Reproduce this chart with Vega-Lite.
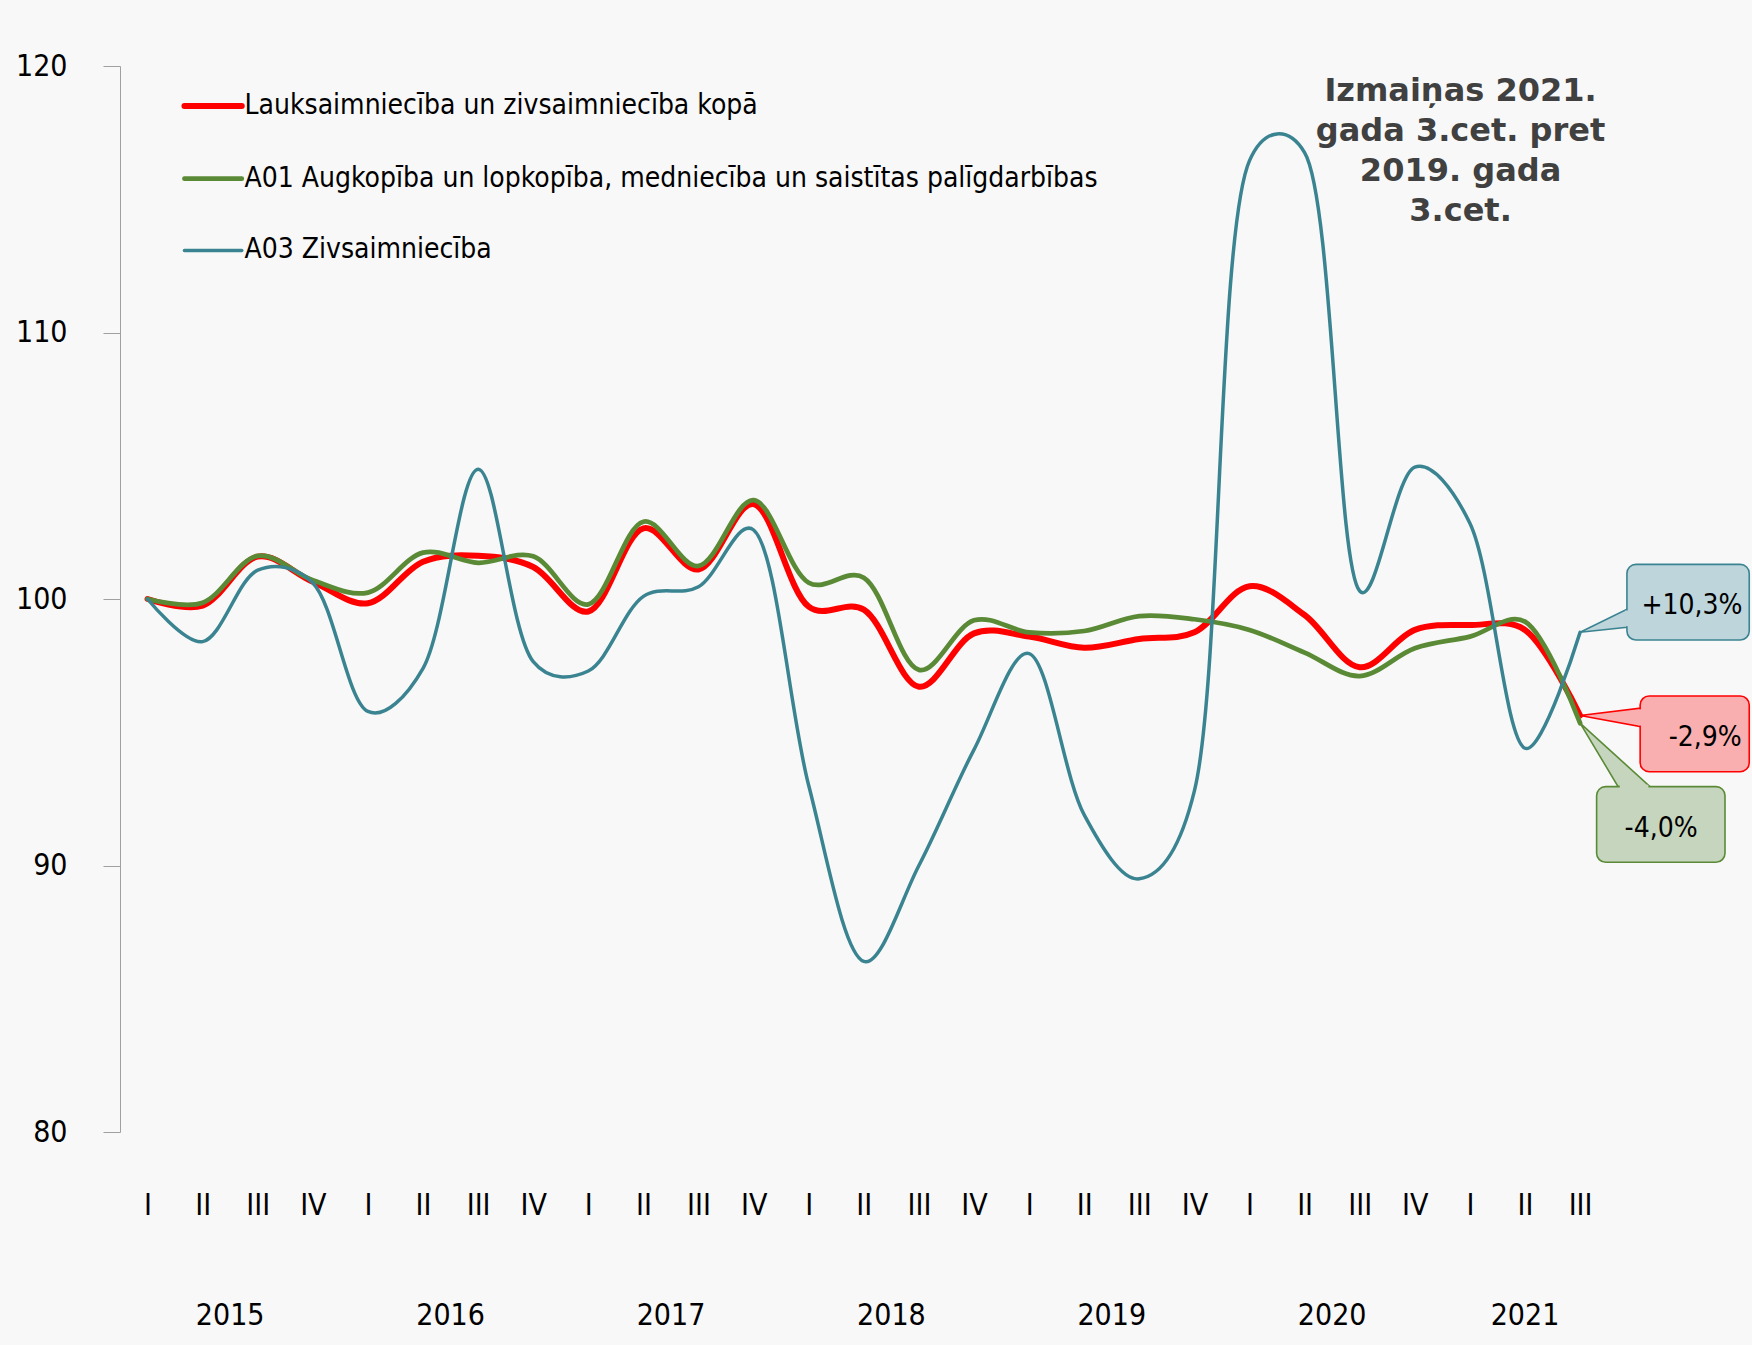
{
  "$schema": "https://vega.github.io/schema/vega-lite/v6.json",
  "width": 1632,
  "height": 1066,
  "autosize": {"type": "none"},
  "padding": {"left": 120, "top": 66, "right": 0, "bottom": 213},
  "background": "#f8f8f8",
  "config": {"view": {"stroke": null}, "font": "Liberation Sans Narrow, DejaVu Sans Condensed, sans-serif"},
  "datasets": {
    "lines": [
      {"s": "Lauksaimniecība un zivsaimniecība kopā", "x": 0, "y": 100},
      {"s": "Lauksaimniecība un zivsaimniecība kopā", "x": 1, "y": 99.75},
      {"s": "Lauksaimniecība un zivsaimniecība kopā", "x": 2, "y": 101.59},
      {"s": "Lauksaimniecība un zivsaimniecība kopā", "x": 3, "y": 100.65},
      {"s": "Lauksaimniecība un zivsaimniecība kopā", "x": 4, "y": 99.84},
      {"s": "Lauksaimniecība un zivsaimniecība kopā", "x": 5, "y": 101.4},
      {"s": "Lauksaimniecība un zivsaimniecība kopā", "x": 6, "y": 101.62},
      {"s": "Lauksaimniecība un zivsaimniecība kopā", "x": 7, "y": 101.2},
      {"s": "Lauksaimniecība un zivsaimniecība kopā", "x": 8, "y": 99.53},
      {"s": "Lauksaimniecība un zivsaimniecība kopā", "x": 9, "y": 102.65},
      {"s": "Lauksaimniecība un zivsaimniecība kopā", "x": 10, "y": 101.11},
      {"s": "Lauksaimniecība un zivsaimniecība kopā", "x": 11, "y": 103.56},
      {"s": "Lauksaimniecība un zivsaimniecība kopā", "x": 12, "y": 99.71},
      {"s": "Lauksaimniecība un zivsaimniecība kopā", "x": 13, "y": 99.6},
      {"s": "Lauksaimniecība un zivsaimniecība kopā", "x": 14, "y": 96.71},
      {"s": "Lauksaimniecība un zivsaimniecība kopā", "x": 15, "y": 98.71},
      {"s": "Lauksaimniecība un zivsaimniecība kopā", "x": 16, "y": 98.59},
      {"s": "Lauksaimniecība un zivsaimniecība kopā", "x": 17, "y": 98.17},
      {"s": "Lauksaimniecība un zivsaimniecība kopā", "x": 18, "y": 98.5},
      {"s": "Lauksaimniecība un zivsaimniecība kopā", "x": 19, "y": 98.75},
      {"s": "Lauksaimniecība un zivsaimniecība kopā", "x": 20, "y": 100.48},
      {"s": "Lauksaimniecība un zivsaimniecība kopā", "x": 21, "y": 99.4},
      {"s": "Lauksaimniecība un zivsaimniecība kopā", "x": 22, "y": 97.44},
      {"s": "Lauksaimniecība un zivsaimniecība kopā", "x": 23, "y": 98.84},
      {"s": "Lauksaimniecība un zivsaimniecība kopā", "x": 24, "y": 99.02},
      {"s": "Lauksaimniecība un zivsaimniecība kopā", "x": 25, "y": 98.84},
      {"s": "Lauksaimniecība un zivsaimniecība kopā", "x": 26, "y": 95.63},
      {"s": "A01 Augkopība un lopkopība, medniecība un saistītas palīgdarbības", "x": 0, "y": 100},
      {"s": "A01 Augkopība un lopkopība, medniecība un saistītas palīgdarbības", "x": 1, "y": 99.86},
      {"s": "A01 Augkopība un lopkopība, medniecība un saistītas palīgdarbības", "x": 2, "y": 101.62},
      {"s": "A01 Augkopība un lopkopība, medniecība un saistītas palīgdarbības", "x": 3, "y": 100.7},
      {"s": "A01 Augkopība un lopkopība, medniecība un saistītas palīgdarbības", "x": 4, "y": 100.24},
      {"s": "A01 Augkopība un lopkopība, medniecība un saistītas palīgdarbības", "x": 5, "y": 101.74},
      {"s": "A01 Augkopība un lopkopība, medniecība un saistītas palīgdarbības", "x": 6, "y": 101.36},
      {"s": "A01 Augkopība un lopkopība, medniecība un saistītas palīgdarbības", "x": 7, "y": 101.6},
      {"s": "A01 Augkopība un lopkopība, medniecība un saistītas palīgdarbības", "x": 8, "y": 99.8},
      {"s": "A01 Augkopība un lopkopība, medniecība un saistītas palīgdarbības", "x": 9, "y": 102.9},
      {"s": "A01 Augkopība un lopkopība, medniecība un saistītas palīgdarbības", "x": 10, "y": 101.24},
      {"s": "A01 Augkopība un lopkopība, medniecība un saistītas palīgdarbības", "x": 11, "y": 103.71},
      {"s": "A01 Augkopība un lopkopība, medniecība un saistītas palīgdarbības", "x": 12, "y": 100.61},
      {"s": "A01 Augkopība un lopkopība, medniecība un saistītas palīgdarbības", "x": 13, "y": 100.8},
      {"s": "A01 Augkopība un lopkopība, medniecība un saistītas palīgdarbības", "x": 14, "y": 97.34},
      {"s": "A01 Augkopība un lopkopība, medniecība un saistītas palīgdarbības", "x": 15, "y": 99.2},
      {"s": "A01 Augkopība un lopkopība, medniecība un saistītas palīgdarbības", "x": 16, "y": 98.75},
      {"s": "A01 Augkopība un lopkopība, medniecība un saistītas palīgdarbības", "x": 17, "y": 98.8},
      {"s": "A01 Augkopība un lopkopība, medniecība un saistītas palīgdarbības", "x": 18, "y": 99.36},
      {"s": "A01 Augkopība un lopkopība, medniecība un saistītas palīgdarbības", "x": 19, "y": 99.24},
      {"s": "A01 Augkopība un lopkopība, medniecība un saistītas palīgdarbības", "x": 20, "y": 98.84},
      {"s": "A01 Augkopība un lopkopība, medniecība un saistītas palīgdarbības", "x": 21, "y": 97.99},
      {"s": "A01 Augkopība un lopkopība, medniecība un saistītas palīgdarbības", "x": 22, "y": 97.11},
      {"s": "A01 Augkopība un lopkopība, medniecība un saistītas palīgdarbības", "x": 23, "y": 98.15},
      {"s": "A01 Augkopība un lopkopība, medniecība un saistītas palīgdarbības", "x": 24, "y": 98.59},
      {"s": "A01 Augkopība un lopkopība, medniecība un saistītas palīgdarbības", "x": 25, "y": 99.15},
      {"s": "A01 Augkopība un lopkopība, medniecība un saistītas palīgdarbības", "x": 26, "y": 95.34},
      {"s": "A03 Zivsaimniecība", "x": 0, "y": 100},
      {"s": "A03 Zivsaimniecība", "x": 1, "y": 98.4},
      {"s": "A03 Zivsaimniecība", "x": 2, "y": 101.08},
      {"s": "A03 Zivsaimniecība", "x": 3, "y": 100.6},
      {"s": "A03 Zivsaimniecība", "x": 4, "y": 95.78},
      {"s": "A03 Zivsaimniecība", "x": 5, "y": 97.4},
      {"s": "A03 Zivsaimniecība", "x": 6, "y": 104.87},
      {"s": "A03 Zivsaimniecība", "x": 7, "y": 97.65},
      {"s": "A03 Zivsaimniecība", "x": 8, "y": 97.3},
      {"s": "A03 Zivsaimniecība", "x": 9, "y": 100.1},
      {"s": "A03 Zivsaimniecība", "x": 10, "y": 100.46},
      {"s": "A03 Zivsaimniecība", "x": 11, "y": 102.59},
      {"s": "A03 Zivsaimniecība", "x": 12, "y": 93.0},
      {"s": "A03 Zivsaimniecība", "x": 13, "y": 86.4},
      {"s": "A03 Zivsaimniecība", "x": 14, "y": 90.0},
      {"s": "A03 Zivsaimniecība", "x": 15, "y": 94.35},
      {"s": "A03 Zivsaimniecība", "x": 16, "y": 97.95},
      {"s": "A03 Zivsaimniecība", "x": 17, "y": 91.9},
      {"s": "A03 Zivsaimniecība", "x": 18, "y": 89.5},
      {"s": "A03 Zivsaimniecība", "x": 19, "y": 92.8},
      {"s": "A03 Zivsaimniecība", "x": 20, "y": 116.45},
      {"s": "A03 Zivsaimniecība", "x": 21, "y": 116.75},
      {"s": "A03 Zivsaimniecība", "x": 22, "y": 100.3},
      {"s": "A03 Zivsaimniecība", "x": 23, "y": 104.95},
      {"s": "A03 Zivsaimniecība", "x": 24, "y": 102.84},
      {"s": "A03 Zivsaimniecība", "x": 25, "y": 94.4},
      {"s": "A03 Zivsaimniecība", "x": 26, "y": 98.75}
    ],
    "legend": [
      {"s": "Lauksaimniecība un zivsaimniecība kopā", "x": 0.67, "y": 118.5},
      {"s": "Lauksaimniecība un zivsaimniecība kopā", "x": 1.71, "y": 118.5},
      {"s": "A01 Augkopība un lopkopība, medniecība un saistītas palīgdarbības", "x": 0.67, "y": 115.77},
      {"s": "A01 Augkopība un lopkopība, medniecība un saistītas palīgdarbības", "x": 1.71, "y": 115.77},
      {"s": "A03 Zivsaimniecība", "x": 0.67, "y": 113.08},
      {"s": "A03 Zivsaimniecība", "x": 1.71, "y": 113.08}
    ],
    "legendText": [
      {"t": "Lauksaimniecība un zivsaimniecība kopā", "x": 1.76, "y": 118.5},
      {"t": "A01 Augkopība un lopkopība, medniecība un saistītas palīgdarbības", "x": 1.76, "y": 115.77},
      {"t": "A03 Zivsaimniecība", "x": 1.76, "y": 113.08}
    ],
    "pointersV": [
      {"id": "teal", "x": 26, "y": 98.75, "y2": 98.75},
      {"id": "teal", "x": 26.85, "y": 98.94, "y2": 99.61},
      {"id": "red", "x": 26, "y": 95.63, "y2": 95.63},
      {"id": "red", "x": 27.09, "y": 95.21, "y2": 95.9}
    ],
    "pointersH": [
      {"id": "green", "y": 95.34, "x": 26, "x2": 26},
      {"id": "green", "y": 92.96, "x": 26.69, "x2": 27.27}
    ],
    "boxes": [
      {"id": "teal", "x": 26.85, "x2": 29.07, "y": 98.46, "y2": 101.3},
      {"id": "red", "x": 27.09, "x2": 29.07, "y": 93.52, "y2": 96.36},
      {"id": "green", "x": 26.3, "x2": 28.63, "y": 90.12, "y2": 92.96}
    ],
    "strips": [
      {"id": "teal", "x": 26.82, "x2": 26.89, "y": 98.98, "y2": 99.57},
      {"id": "red", "x": 27.06, "x2": 27.13, "y": 95.25, "y2": 95.86},
      {"id": "green", "x": 26.72, "x2": 27.24, "y": 92.9, "y2": 93.03}
    ],
    "boxText": [
      {"t": "+10,3%", "x": 28.03, "y": 99.74},
      {"t": "-2,9%", "x": 28.27, "y": 94.78},
      {"t": "-4,0%", "x": 27.47, "y": 91.37}
    ],
    "note": [
      {"t": "Izmaiņas 2021.\ngada 3.cet. pret\n2019. gada\n3.cet.", "x": 23.83, "y": 119.62}
    ],
    "years": [
      {"t": "2015", "x": 1.5, "y": 73.1},
      {"t": "2016", "x": 5.5, "y": 73.1},
      {"t": "2017", "x": 9.5, "y": 73.1},
      {"t": "2018", "x": 13.5, "y": 73.1},
      {"t": "2019", "x": 17.5, "y": 73.1},
      {"t": "2020", "x": 21.5, "y": 73.1},
      {"t": "2021", "x": 25, "y": 73.1}
    ]
  },
  "encoding": {
    "x": {
      "field": "x", "type": "quantitative", "title": null,
      "scale": {"domain": [-0.5, 29.12], "nice": false, "zero": false},
      "axis": {
        "values": [0,1,2,3,4,5,6,7,8,9,10,11,12,13,14,15,16,17,18,19,20,21,22,23,24,25,26],
        "labelExpr": "['I','II','III','IV'][datum.value % 4]",
        "domain": false, "ticks": false, "grid": false,
        "labelFont": "Liberation Sans Narrow, DejaVu Sans Condensed, sans-serif",
        "labelFontSize": 30, "labelColor": "#000000",
        "labelBaseline": "middle", "labelPadding": 73,
        "labelFlush": false, "labelOverlap": false, "labelBound": false
      }
    },
    "y": {
      "field": "y", "type": "quantitative", "title": null,
      "scale": {"domain": [80, 120], "nice": false, "zero": false},
      "axis": {
        "values": [80, 90, 100, 110, 120],
        "domainColor": "#a0a0a0", "tickColor": "#a0a0a0", "tickSize": 17,
        "grid": false,
        "labelFont": "Liberation Sans Narrow, DejaVu Sans Condensed, sans-serif",
        "labelFontSize": 30, "labelColor": "#000000", "labelPadding": 36
      }
    }
  },
  "layer": [
    {
      "data": {"name": "lines"},
      "mark": {"type": "line", "interpolate": "catmull-rom", "tension": 0.3, "strokeCap": "round", "strokeJoin": "round"},
      "encoding": {
        "color": {
          "field": "s", "type": "nominal", "legend": null,
          "scale": {
            "domain": ["Lauksaimniecība un zivsaimniecība kopā", "A01 Augkopība un lopkopība, medniecība un saistītas palīgdarbības", "A03 Zivsaimniecība"],
            "range": ["#ff0000", "#5a8a36", "#3a8491"]
          }
        },
        "strokeWidth": {
          "field": "s", "type": "nominal", "legend": null,
          "scale": {
            "domain": ["Lauksaimniecība un zivsaimniecība kopā", "A01 Augkopība un lopkopība, medniecība un saistītas palīgdarbības", "A03 Zivsaimniecība"],
            "range": [6, 3.5, 3.5]
          }
        }
      }
    },
    {
      "data": {"name": "legend"},
      "mark": {"type": "line", "strokeCap": "round"},
      "encoding": {
        "color": {"field": "s", "type": "nominal", "legend": null},
        "strokeWidth": {"field": "s", "type": "nominal", "legend": null}
      }
    },
    {
      "data": {"name": "legendText"},
      "mark": {"type": "text", "align": "left", "baseline": "middle", "fontSize": 28, "color": "#000000", "font": "Liberation Sans Narrow, DejaVu Sans Condensed, sans-serif"},
      "encoding": {"text": {"field": "t"}}
    },
    {
      "data": {"name": "pointersV"},
      "mark": {"type": "area", "strokeWidth": 1.6, "fillOpacity": 1},
      "encoding": {
        "y2": {"field": "y2"},
        "fill": {"field": "id", "type": "nominal", "legend": null, "scale": {"domain": ["teal", "red", "green"], "range": ["#bed5dc", "#f9afb0", "#c6d5be"]}},
        "stroke": {"field": "id", "type": "nominal", "legend": null, "scale": {"domain": ["teal", "red", "green"], "range": ["#3a8491", "#ff0000", "#5a8a36"]}}
      }
    },
    {
      "data": {"name": "pointersH"},
      "mark": {"type": "area", "orient": "horizontal", "strokeWidth": 1.6, "fillOpacity": 1},
      "encoding": {
        "x2": {"field": "x2"},
        "fill": {"field": "id", "type": "nominal", "legend": null},
        "stroke": {"field": "id", "type": "nominal", "legend": null}
      }
    },
    {
      "data": {"name": "boxes"},
      "mark": {"type": "rect", "cornerRadius": 9, "strokeWidth": 1.6},
      "encoding": {
        "x2": {"field": "x2"},
        "y2": {"field": "y2"},
        "fill": {"field": "id", "type": "nominal", "legend": null},
        "stroke": {"field": "id", "type": "nominal", "legend": null}
      }
    },
    {
      "data": {"name": "strips"},
      "mark": {"type": "rect"},
      "encoding": {
        "x2": {"field": "x2"},
        "y2": {"field": "y2"},
        "fill": {"field": "id", "type": "nominal", "legend": null}
      }
    },
    {
      "data": {"name": "boxText"},
      "mark": {"type": "text", "align": "center", "baseline": "middle", "fontSize": 28, "color": "#000000", "font": "Liberation Sans Narrow, DejaVu Sans Condensed, sans-serif"},
      "encoding": {"text": {"field": "t"}}
    },
    {
      "data": {"name": "note"},
      "mark": {"type": "text", "align": "center", "baseline": "top", "fontSize": 32, "fontWeight": "bold", "lineHeight": 40, "lineBreak": "\n", "color": "#404040", "font": "DejaVu Sans"},
      "encoding": {"text": {"field": "t"}}
    },
    {
      "data": {"name": "years"},
      "mark": {"type": "text", "align": "center", "baseline": "middle", "fontSize": 30, "color": "#000000", "font": "Liberation Sans Narrow, DejaVu Sans Condensed, sans-serif"},
      "encoding": {"text": {"field": "t"}}
    }
  ]
}
